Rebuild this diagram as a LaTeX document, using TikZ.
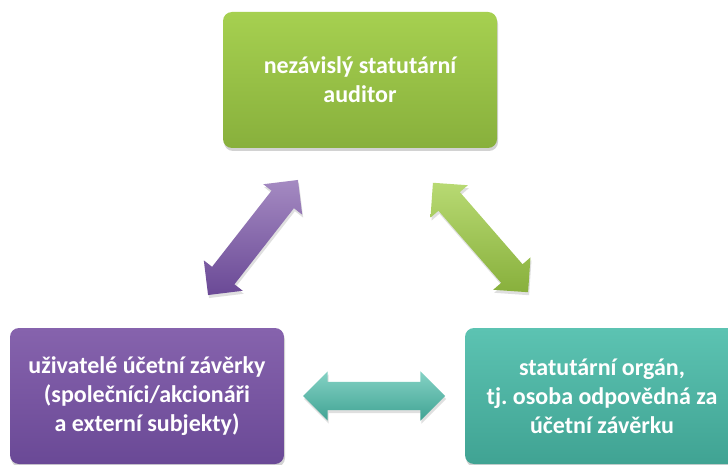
\documentclass[tikz,border=0pt]{standalone}
\usepackage{fontspec}
\setmainfont{Carlito}
\usetikzlibrary{shapes.arrows,shadows}

\definecolor{audtop}{HTML}{A6D050}
\definecolor{audbot}{HTML}{88B03C}
\definecolor{usrtop}{HTML}{8663AD}
\definecolor{usrbot}{HTML}{6A4996}
\definecolor{orgtop}{HTML}{5CC3B2}
\definecolor{orgbot}{HTML}{40A393}

\tikzset{
  box/.style={rectangle, rounded corners=9pt, minimum width=274pt, minimum height=136pt,
    text=white, align=center, font=\fontsize{24}{29}\selectfont\bfseries,
    drop shadow={opacity=0.35, shadow xshift=1pt, shadow yshift=-3pt}},
  link/.style={double arrow, inner xsep=0pt, inner ysep=14pt, minimum width=49pt,
    double arrow head extend=10.5pt, double arrow tip angle=90,
    drop shadow={opacity=0.25, shadow xshift=1pt, shadow yshift=-3pt}}
}

\begin{document}
\frenchspacing
\begin{tikzpicture}[x=1pt,y=-1pt]
\clip (0,0) rectangle (728,465);
\fill[white] (0,0) rectangle (728,465);

% the three parties
\node[box, top color=audtop, bottom color=audbot] (auditor) at (360,80)
  {nezávislý statutární\\auditor};
\node[box, top color=usrtop, bottom color=usrbot] (users) at (147,396)
  {uživatelé účetní závěrky\\(společníci/akcionáři\\a externí subjekty)};
\node[box, top color=orgtop, bottom color=orgbot] (organ) at (602,396)
  {statutární orgán,\\tj. osoba odpovědná za\\účetní závěrku};

% relations
\node[link, minimum height=146pt, rotate=52, top color=usrtop!75!white, bottom color=usrbot] (usraud) at (253,237.5) {};
\node[link, minimum height=145pt, rotate=-49, top color=audtop!80!white, bottom color=audbot] (audorg) at (480.5,237.5) {};
\node[link, minimum height=142pt, top color=orgtop!75!white, bottom color=orgbot] (usrorg) at (374,396) {};
\end{tikzpicture}
\end{document}
